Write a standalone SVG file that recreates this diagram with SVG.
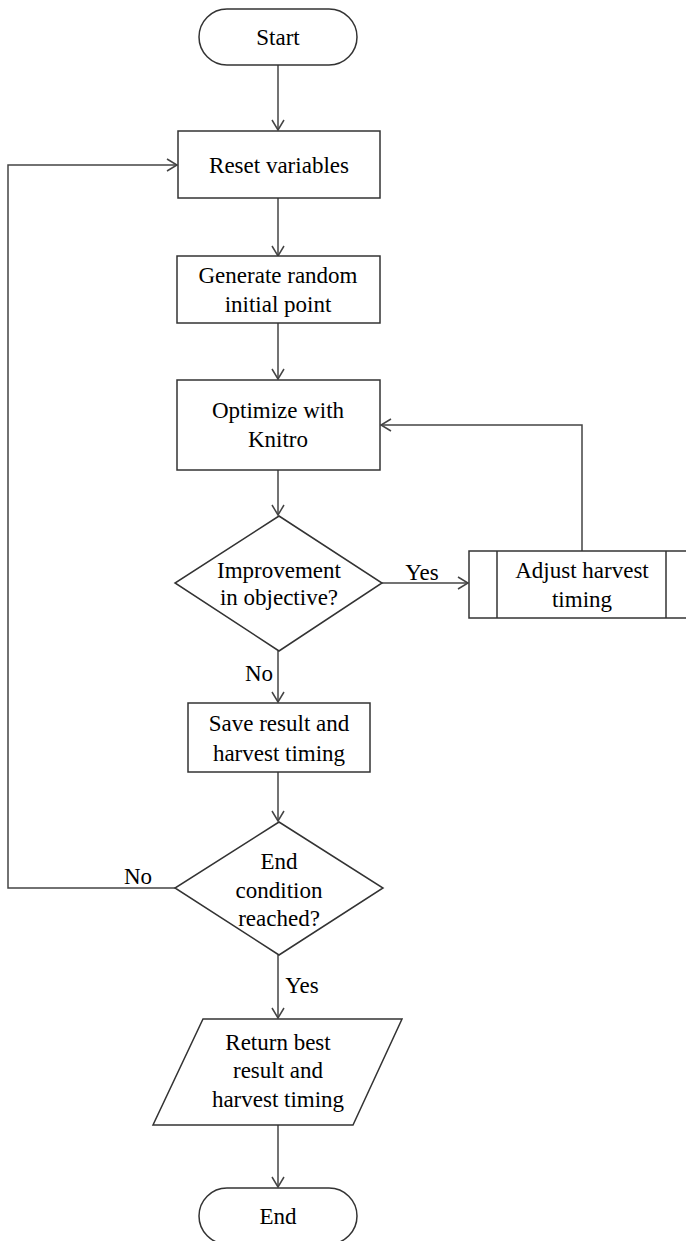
<svg xmlns="http://www.w3.org/2000/svg" width="686" height="1241" viewBox="0 0 686 1241">
<style>
.n{fill:#fff;stroke:#333;stroke-width:1.5}
.c{fill:none;stroke:#444;stroke-width:1.5}
.t{font-family:'Liberation Serif','Times New Roman',Times,serif;font-size:23px;fill:#000;text-anchor:middle}
</style>
<defs>
<marker id="a" markerWidth="14" markerHeight="14" refX="11" refY="7" orient="auto" markerUnits="userSpaceOnUse">
<path d="M1,1 L11,7 L1,13" fill="none" stroke="#444" stroke-width="1.5"/>
</marker>
</defs>
<rect width="686" height="1241" fill="#fff"/>
<g id="connectors">
<path class="c" d="M278,65 V130" marker-end="url(#a)"/>
<path class="c" d="M278,198 V256" marker-end="url(#a)"/>
<path class="c" d="M278,323 V379" marker-end="url(#a)"/>
<path class="c" d="M278,470 V515" marker-end="url(#a)"/>
<path class="c" d="M382,583 H468" marker-end="url(#a)"/>
<path class="c" d="M582,551 V425 H381" marker-end="url(#a)"/>
<path class="c" d="M278,651 V702" marker-end="url(#a)"/>
<path class="c" d="M278,772 V821" marker-end="url(#a)"/>
<path class="c" d="M175,888 H8 V165 H177" marker-end="url(#a)"/>
<path class="c" d="M278,955 V1018" marker-end="url(#a)"/>
<path class="c" d="M278,1125 V1187" marker-end="url(#a)"/>
<text class="t" x="422" y="580">Yes</text>
<text class="t" x="259" y="681">No</text>
<text class="t" x="138" y="884">No</text>
<text class="t" x="302" y="993">Yes</text>
</g>
<g id="start">
<rect class="n" x="199" y="9" width="158" height="56" rx="28"/>
<text class="t" x="278" y="45">Start</text>
</g>
<g id="reset">
<rect class="n" x="178" y="131" width="202" height="67"/>
<text class="t" x="279" y="173">Reset variables</text>
</g>
<g id="generate">
<rect class="n" x="177" y="256" width="203" height="67"/>
<text class="t" x="278" y="283">Generate random</text>
<text class="t" x="278" y="312">initial point</text>
</g>
<g id="optimize">
<rect class="n" x="177" y="380" width="203" height="90"/>
<text class="t" x="278" y="418">Optimize with</text>
<text class="t" x="278" y="447">Knitro</text>
</g>
<g id="improve">
<polygon class="n" points="279,516 382,583 279,651 175,583"/>
<text class="t" x="279" y="578">Improvement</text>
<text class="t" x="279" y="605">in objective?</text>
</g>
<g id="adjust">
<rect class="n" x="469" y="551" width="230" height="67"/>
<line class="n" x1="497" y1="551" x2="497" y2="618"/>
<line class="n" x1="666" y1="551" x2="666" y2="618"/>
<text class="t" x="582" y="578">Adjust harvest</text>
<text class="t" x="582" y="607">timing</text>
</g>
<g id="save">
<rect class="n" x="188" y="703" width="182" height="69"/>
<text class="t" x="279" y="731">Save result and</text>
<text class="t" x="279" y="761">harvest timing</text>
</g>
<g id="endcond">
<polygon class="n" points="279,822 383,888 279,955 175,888"/>
<text class="t" x="279" y="869">End</text>
<text class="t" x="279" y="898">condition</text>
<text class="t" x="279" y="926">reached?</text>
</g>
<g id="return">
<polygon class="n" points="203,1019 402,1019 353,1125 153,1125"/>
<text class="t" x="278" y="1050">Return best</text>
<text class="t" x="278" y="1078">result and</text>
<text class="t" x="278" y="1107">harvest timing</text>
</g>
<g id="end">
<rect class="n" x="199" y="1188" width="158" height="56" rx="28"/>
<text class="t" x="278" y="1224">End</text>
</g>
</svg>
